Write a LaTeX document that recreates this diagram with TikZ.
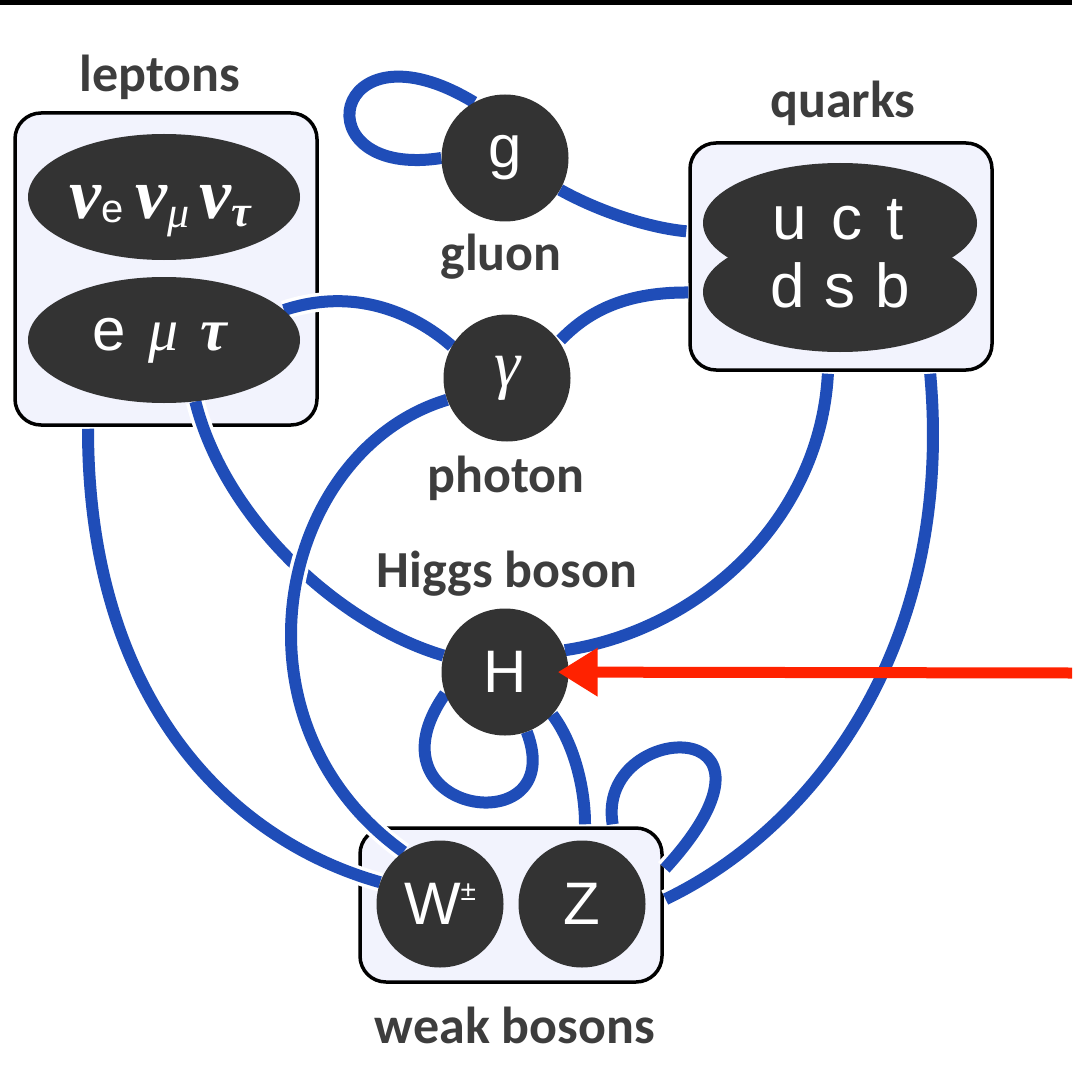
\documentclass[tikz,border=0pt]{standalone}
\usepackage{fontspec}
\setmainfont{Liberation Sans}
\newfontfamily\labfont{Carlito}
\newfontfamily\grfont{Liberation Serif}
\usetikzlibrary{arrows.meta,shapes.geometric}
\definecolor{darkfill}{HTML}{333333}
\definecolor{boxfill}{HTML}{F2F3FD}
\definecolor{linkblue}{HTML}{1F4DB8}
\definecolor{arrowred}{HTML}{FF2200}
\definecolor{labgray}{HTML}{3D3D3D}
\pgfdeclarelayer{boxlayer}
\pgfdeclarelayer{linelayer}
\pgfsetlayers{boxlayer,linelayer,main}
\begin{document}
\begin{tikzpicture}[x=1pt,y=-1pt,
  lab/.style={font=\labfont\bfseries\fontsize{52}{56}\selectfont, text=labgray, inner sep=0pt, anchor=base},
  groupbox/.style={draw=black, line width=3.5pt, fill=boxfill, rounded corners=26pt, inner sep=0pt},
  particle/.style={circle, fill=darkfill, minimum size=127pt, inner sep=0pt, text=white, font=\fontsize{60}{62}\selectfont},
  blob/.style={ellipse, fill=darkfill, minimum width=272pt, minimum height=126pt, inner sep=0pt},
  intext/.style={text=white, inner sep=0pt, anchor=base},
  link/.style={draw=linkblue, line width=12pt, preaction={draw=white, line width=19pt}},
  redarrow/.style={draw=arrowred, line width=11pt, -{Triangle[length=40pt,width=46pt]}}
]
\useasboundingbox (0,0) rectangle (1072,1091);
\fill[black] (0,0) rectangle (1072,5);

% group boxes
\begin{pgfonlayer}{boxlayer}
\node[groupbox, minimum width=302pt, minimum height=312pt] (lbox) at (166,269) {};
\node[groupbox, minimum width=302pt, minimum height=227pt] (qbox) at (841,256.5) {};
\node[groupbox, minimum width=302pt, minimum height=154pt] (wbox) at (511,905) {};
\end{pgfonlayer}

% labels
\node[lab] (leptonslab) at (160,92) {leptons};
\node[lab] (quarkslab) at (843,118) {quarks};
\node[lab] (gluonlab) at (501,270) {gluon};
\node[lab] (photonlab) at (506,492) {photon};
\node[lab] (higgslab) at (507,587) {Higgs boson};
\node[lab] (weaklab) at (515,1043) {weak bosons};

% particles
\node[blob] (nu) at (164,197) {};
\node[intext] (nutext) at (160,219) {\fontsize{72}{74}\selectfont{\grfont\bfseries\itshape ν}\raisebox{-4pt}{\fontsize{40}{42}\selectfont e}\hspace{12pt}{\grfont\bfseries\itshape ν}\raisebox{-9pt}{\fontsize{44}{46}\selectfont\grfont\itshape μ}\hspace{10pt}{\grfont\bfseries\itshape ν}\raisebox{-8pt}{\fontsize{44}{46}\selectfont\grfont\bfseries\itshape τ}};
\node[blob] (emt) at (164,340) {};
\node[intext] (emttext) at (160,350) {\fontsize{60}{62}\selectfont e\hspace{22pt}{\grfont\itshape μ}\hspace{22pt}{\grfont\bfseries\itshape τ}};

\node[blob, minimum height=120pt, minimum width=274pt] (qtop) at (840,223) {};
\node[blob, minimum height=120pt, minimum width=274pt] (qbot) at (840,292) {};
\node[intext, font=\fontsize{62}{64}\selectfont] (uct) at (838,240) {u\hspace{24pt}c\hspace{24pt}t};
\node[intext, font=\fontsize{62}{64}\selectfont] (dsb) at (840,307) {d\hspace{20pt}s\hspace{20pt}b};

\node[particle] (g) at (505,158) {g};
\node[particle, font=\fontsize{66}{68}\selectfont\grfont\itshape] (gamma) at (507,378) {γ};
\node[particle] (H) at (505,672) {H};
\node[particle] (W) at (440,904) {W\raisebox{24pt}{\fontsize{28}{30}\selectfont ±}};
\node[particle] (Z) at (582,904) {Z};

% connectors
\begin{pgfonlayer}{linelayer}
\draw[link] (g.180) .. controls (300,180) and (330,15) .. (g.119);
\draw[link, shorten >=2pt] (g.-30) .. controls (600,212) and (650,228) .. ([yshift=25pt]qbox.west);
\draw[link] (emt.14) .. controls (360,285) and (420,318) .. (gamma.150);
\draw[link, shorten >=2pt] ([yshift=-36pt]qbox.west) .. controls (620,292) and (585,315) .. (gamma.35);
\draw[link, shorten <=2pt] ([xshift=-78pt]lbox.south) .. controls (88,700) and (230,840) .. (W.160);
\draw[link] (emt.-63) .. controls (225,520) and (340,625) .. (H.165);
\draw[link] (gamma.200) .. controls (280,450) and (220,720) .. (W.125);
\draw[link, shorten <=2pt] ([xshift=-13pt]qbox.south) .. controls (820,520) and (700,630) .. (H.20);
\draw[link, shorten <=2pt, shorten >=2pt] ([xshift=89pt]qbox.south) .. controls (955,650) and (810,830) .. ([yshift=5pt]wbox.east);
\draw[link] (H.200) .. controls (360,815) and (570,845) .. (H.290);
\draw[link, shorten >=2pt] (H.-42) .. controls (575,745) and (585,790) .. ([xshift=74pt]wbox.north);
\draw[link, shorten <=2pt, shorten >=2pt] ([xshift=102pt]wbox.north) .. controls (595,720) and (810,710) .. ([yshift=35pt]wbox.east);
\end{pgfonlayer}

\coordinate (arrowstart) at (1072,673);
\draw[redarrow, shorten >=-11pt] (arrowstart) -- (H);
\end{tikzpicture}
\end{document}
